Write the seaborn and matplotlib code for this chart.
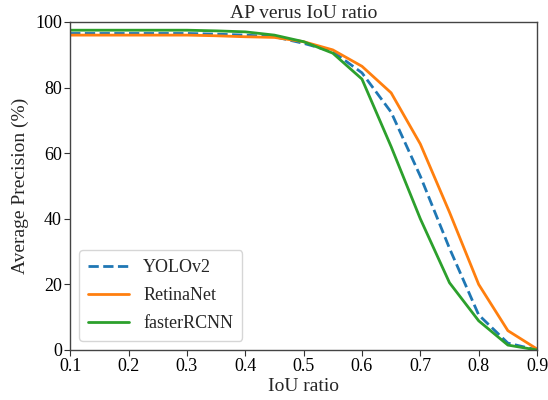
import matplotlib
matplotlib.use("Agg")
import matplotlib.pyplot as plt
import seaborn as sns
import pandas as pd

iou = [0.1, 0.15, 0.2, 0.25, 0.3, 0.35, 0.4, 0.45, 0.5, 0.55, 0.6, 0.65, 0.7, 0.75, 0.8, 0.85, 0.9]
yolov2 = [96.5, 96.5, 96.5, 96.5, 96.5, 96.3, 96.0, 95.5, 93.5, 91.0, 84.5, 72.5, 53.0, 31.0, 10.7, 2.1, 0.0]
retinanet = [96.0, 96.0, 96.0, 96.0, 96.0, 95.8, 95.5, 95.3, 94.0, 91.5, 86.5, 78.4, 62.8, 42.0, 20.0, 5.9, 0.3]
fasterrcnn = [97.5, 97.5, 97.5, 97.5, 97.5, 97.3, 97.0, 96.0, 94.0, 90.5, 82.6, 62.0, 40.0, 20.5, 8.9, 1.5, 0.0]

sns.set_style("ticks")
plt.rcParams['font.family'] = ['Liberation Serif', 'DejaVu Serif']

fig = plt.figure(figsize=(5.48, 4.0), dpi=100)
ax = fig.add_axes([0.128, 0.125, 0.852, 0.82])

series = [("YOLOv2", yolov2, "#1f77b4", "--"),
          ("RetinaNet", retinanet, "#ff7f0e", "-"),
          ("fasterRCNN", fasterrcnn, "#2ca02c", "-")]
for name, vals, col, ls in series:
    df = pd.DataFrame({"x": iou, "y": vals})
    sns.lineplot(data=df, x="x", y="y", ax=ax, color=col, linestyle=ls, linewidth=2, label=name)

ax.set_xlim(0.1, 0.9)
ax.set_ylim(0, 100)
ax.set_xticks([0.1, 0.2, 0.3, 0.4, 0.5, 0.6, 0.7, 0.8, 0.9])
ax.set_yticks([0, 20, 40, 60, 80, 100])
ax.tick_params(labelsize=13, length=4, width=0.8, direction="out", pad=2, colors="#333333", labelcolor="black")
ax.set_xlabel("IoU ratio", fontsize=14, labelpad=2)
ax.set_ylabel("Average Precision (%)", fontsize=14, labelpad=4)
ax.set_title("AP verus IoU ratio", fontsize=14, pad=3)
for s in ax.spines.values():
    s.set_visible(True)
    s.set_color("#444444")
    s.set_linewidth(1.0)
leg = ax.legend(loc="lower left", fontsize=13, frameon=True, borderpad=0.5, handlelength=2.25,
                labelspacing=0.6, handletextpad=0.8, bbox_to_anchor=(0.0, 0.0))
leg.get_frame().set_edgecolor("#cccccc")

fig.savefig("out.png", dpi=100)
